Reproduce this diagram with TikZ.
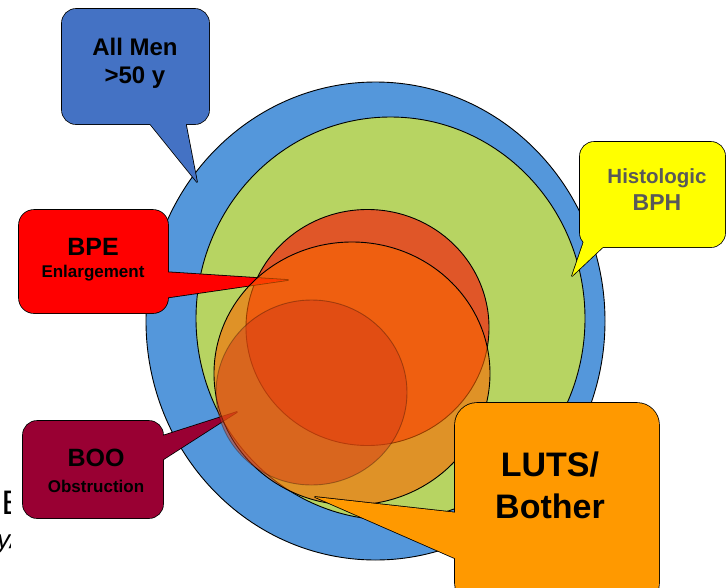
\documentclass[tikz,border=0pt]{standalone}
\usepackage{fontspec}
\setmainfont{Liberation Sans}
\definecolor{bluecirc}{RGB}{84,151,219}
\definecolor{greencirc}{RGB}{183,212,98}
\definecolor{redcirc}{RGB}{224,86,40}
\definecolor{orangecirc}{RGB}{250,102,0}
\definecolor{smallcirc}{RGB}{212,60,22}
\definecolor{menblue}{RGB}{68,114,196}
\definecolor{bpered}{RGB}{255,0,0}
\definecolor{boored}{RGB}{153,0,51}
\definecolor{lutsorange}{RGB}{255,153,0}
\definecolor{histyellow}{RGB}{255,255,0}
\definecolor{histtext}{RGB}{89,89,89}
\newcommand\mycallout[5]{%
  \filldraw[fill=#1,line width=1.6pt,rounded corners=#4] #2 rectangle #3;
  \filldraw[fill=#1,line width=1.6pt,line join=round] #5 -- cycle;
  \fill[#1,rounded corners=#4] #2 rectangle #3;
  \fill[#1] #5 -- cycle;
}
\tikzset{
  lbl/.style={inner sep=0pt, anchor=base},
  circ/.style={draw=black, line width=0.9pt},
}
\begin{document}
\begin{tikzpicture}[x=1pt,y=-1pt]
\useasboundingbox (0,0) rectangle (726,587);
\clip (0,0) rectangle (726,587);
% fragments at the left edge
\begin{scope}
  \clip (0,480) rectangle (10.5,565);
  \node[inner sep=0pt, anchor=base west, font=\fontsize{34}{34}\selectfont] (fragE) at (1.5,514) {E};
  \node[inner sep=0pt, anchor=base west, font=\itshape\fontsize{26}{26}\selectfont] (fragY) at (-3,548) {y/};
\end{scope}
% circles
\draw[circ, fill=bluecirc] (375.5,321) ellipse [x radius=229.5pt, y radius=239pt];
\draw[circ, fill=greencirc] (390.5,318.5) ellipse [x radius=194.5pt, y radius=201.5pt];
\draw[circ, fill=redcirc] (367.5,327.5) ellipse [x radius=121.5pt, y radius=118pt];
% callouts under the translucent circles
\mycallout{menblue}{(62,9)}{(209,124)}{14pt}{(147,120) -- (197,182) -- (185,120)}
\mycallout{bpered}{(19,210)}{(168,313)}{15pt}{(164,272) -- (288,280) -- (164,298)}
\mycallout{boored}{(23,421)}{(163,518)}{14pt}{(159,437) -- (237,412) -- (159,462)}
% translucent circles
\draw[draw=black, line width=0.9pt, fill=orangecirc, fill opacity=0.6] (352,373.5) ellipse [x radius=138pt, y radius=131.5pt];
\draw[draw=black, draw opacity=0.3, line width=0.9pt, fill=smallcirc, fill opacity=0.5] (311.5,392.5) ellipse [x radius=95.5pt, y radius=92.5pt];
% callouts on top
\mycallout{histyellow}{(580,142)}{(725,247)}{14pt}{(585,238) -- (572,276) -- (606,244)}
\mycallout{lutsorange}{(455,403)}{(659,605)}{22pt}{(459,513) -- (315,497) -- (459,560)}
% texts
\node[lbl, font=\bfseries\fontsize{24}{24}\selectfont] (men1) at (135,55) {All Men};
\node[lbl, font=\bfseries\fontsize{24}{24}\selectfont] (men2) at (135,83) {>50 y};
\node[lbl, text=histtext, font=\bfseries\fontsize{20.5}{20.5}\selectfont] (hist1) at (657,183) {Histologic};
\node[lbl, text=histtext, font=\bfseries\fontsize{23}{23}\selectfont] (hist2) at (657,210) {BPH};
\node[lbl, font=\bfseries\fontsize{25}{25}\selectfont] (bpe1) at (93,255) {BPE};
\node[lbl, font=\bfseries\fontsize{17}{17}\selectfont] (bpe2) at (93,277) {Enlargement};
\node[lbl, font=\bfseries\fontsize{25}{25}\selectfont] (boo1) at (96,466) {BOO};
\node[lbl, font=\bfseries\fontsize{17}{17}\selectfont] (boo2) at (96,492) {Obstruction};
\node[lbl, font=\bfseries\fontsize{34}{34}\selectfont] (luts1) at (550,476) {LUTS/};
\node[lbl, font=\bfseries\fontsize{34}{34}\selectfont] (luts2) at (550,518) {Bother};
\end{tikzpicture}
\end{document}
